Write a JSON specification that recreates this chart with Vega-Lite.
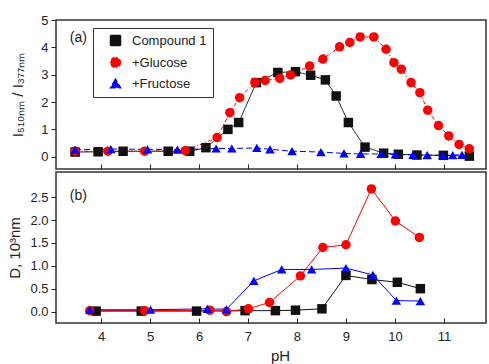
{
  "$schema": "https://vega.github.io/schema/vega-lite/v6.json",
  "background": "white",
  "padding": {"left": 6, "top": 13, "right": 0, "bottom": 0},
  "spacing": 0,
  "config": {
    "font": "Liberation Sans",
    "view": {"stroke": "#333333", "strokeWidth": 1.5},
    "axis": {
      "domain": false,
      "grid": false,
      "labelOverlap": false,
      "tickColor": "#222222",
      "tickWidth": 1,
      "labelFont": "Liberation Sans",
      "labelFontSize": 13,
      "labelColor": "#222222",
      "titleFont": "Liberation Sans",
      "titleFontWeight": "normal",
      "titleColor": "#222222"
    }
  },
  "datasets": {
    "a": [
      {"pH": 3.47, "v": 0.17, "series": "Compound 1"},
      {"pH": 3.94, "v": 0.18, "series": "Compound 1"},
      {"pH": 4.45, "v": 0.2, "series": "Compound 1"},
      {"pH": 5.37, "v": 0.2, "series": "Compound 1"},
      {"pH": 5.81, "v": 0.2, "series": "Compound 1"},
      {"pH": 6.14, "v": 0.33, "series": "Compound 1"},
      {"pH": 6.59, "v": 1.0, "series": "Compound 1"},
      {"pH": 6.81, "v": 1.25, "series": "Compound 1"},
      {"pH": 7.17, "v": 2.71, "series": "Compound 1"},
      {"pH": 7.61, "v": 3.08, "series": "Compound 1"},
      {"pH": 7.97, "v": 3.11, "series": "Compound 1"},
      {"pH": 8.28, "v": 2.98, "series": "Compound 1"},
      {"pH": 8.58, "v": 2.81, "series": "Compound 1"},
      {"pH": 8.8, "v": 2.22, "series": "Compound 1"},
      {"pH": 9.05, "v": 1.25, "series": "Compound 1"},
      {"pH": 9.39, "v": 0.35, "series": "Compound 1"},
      {"pH": 9.77, "v": 0.13, "series": "Compound 1"},
      {"pH": 10.07, "v": 0.09, "series": "Compound 1"},
      {"pH": 10.45, "v": 0.06, "series": "Compound 1"},
      {"pH": 10.99, "v": 0.05, "series": "Compound 1"},
      {"pH": 11.52, "v": 0.02, "series": "Compound 1"},
      {"pH": 3.47, "v": 0.2, "series": "+Glucose"},
      {"pH": 4.14, "v": 0.2, "series": "+Glucose"},
      {"pH": 4.89, "v": 0.2, "series": "+Glucose"},
      {"pH": 5.72, "v": 0.22, "series": "+Glucose"},
      {"pH": 6.37, "v": 0.7, "series": "+Glucose"},
      {"pH": 6.63, "v": 1.61, "series": "+Glucose"},
      {"pH": 6.83, "v": 2.16, "series": "+Glucose"},
      {"pH": 7.14, "v": 2.71, "series": "+Glucose"},
      {"pH": 7.35, "v": 2.79, "series": "+Glucose"},
      {"pH": 7.65, "v": 2.86, "series": "+Glucose"},
      {"pH": 7.87, "v": 2.99, "series": "+Glucose"},
      {"pH": 8.26, "v": 3.32, "series": "+Glucose"},
      {"pH": 8.53, "v": 3.57, "series": "+Glucose"},
      {"pH": 8.87, "v": 4.02, "series": "+Glucose"},
      {"pH": 9.08, "v": 4.18, "series": "+Glucose"},
      {"pH": 9.29, "v": 4.38, "series": "+Glucose"},
      {"pH": 9.57, "v": 4.38, "series": "+Glucose"},
      {"pH": 9.82, "v": 3.93, "series": "+Glucose"},
      {"pH": 9.98, "v": 3.44, "series": "+Glucose"},
      {"pH": 10.13, "v": 3.2, "series": "+Glucose"},
      {"pH": 10.33, "v": 2.71, "series": "+Glucose"},
      {"pH": 10.51, "v": 2.34, "series": "+Glucose"},
      {"pH": 10.67, "v": 1.7, "series": "+Glucose"},
      {"pH": 10.89, "v": 1.14, "series": "+Glucose"},
      {"pH": 11.1, "v": 0.76, "series": "+Glucose"},
      {"pH": 11.31, "v": 0.45, "series": "+Glucose"},
      {"pH": 11.52, "v": 0.29, "series": "+Glucose"},
      {"pH": 3.47, "v": 0.25, "series": "+Fructose"},
      {"pH": 4.2, "v": 0.28, "series": "+Fructose"},
      {"pH": 4.95, "v": 0.27, "series": "+Fructose"},
      {"pH": 5.56, "v": 0.26, "series": "+Fructose"},
      {"pH": 6.35, "v": 0.3, "series": "+Fructose"},
      {"pH": 6.67, "v": 0.3, "series": "+Fructose"},
      {"pH": 7.18, "v": 0.32, "series": "+Fructose"},
      {"pH": 7.45, "v": 0.27, "series": "+Fructose"},
      {"pH": 7.9, "v": 0.2, "series": "+Fructose"},
      {"pH": 8.49, "v": 0.17, "series": "+Fructose"},
      {"pH": 8.96, "v": 0.12, "series": "+Fructose"},
      {"pH": 9.3, "v": 0.1, "series": "+Fructose"},
      {"pH": 9.72, "v": 0.1, "series": "+Fructose"},
      {"pH": 10.01, "v": 0.08, "series": "+Fructose"},
      {"pH": 10.37, "v": 0.07, "series": "+Fructose"},
      {"pH": 10.66, "v": 0.06, "series": "+Fructose"},
      {"pH": 10.98, "v": 0.05, "series": "+Fructose"},
      {"pH": 11.18, "v": 0.06, "series": "+Fructose"},
      {"pH": 11.37, "v": 0.07, "series": "+Fructose"}
    ],
    "b": [
      {"pH": 3.9, "v": 0.01, "series": "Compound 1"},
      {"pH": 4.82, "v": 0.01, "series": "Compound 1"},
      {"pH": 5.95, "v": 0.01, "series": "Compound 1"},
      {"pH": 6.94, "v": 0.02, "series": "Compound 1"},
      {"pH": 7.56, "v": 0.02, "series": "Compound 1"},
      {"pH": 7.97, "v": 0.03, "series": "Compound 1"},
      {"pH": 8.51, "v": 0.06, "series": "Compound 1"},
      {"pH": 9.0, "v": 0.79, "series": "Compound 1"},
      {"pH": 9.53, "v": 0.7, "series": "Compound 1"},
      {"pH": 10.05, "v": 0.64, "series": "Compound 1"},
      {"pH": 10.52, "v": 0.5, "series": "Compound 1"},
      {"pH": 3.77, "v": 0.02, "series": "+Glucose"},
      {"pH": 4.89, "v": 0.02, "series": "+Glucose"},
      {"pH": 6.22, "v": 0.03, "series": "+Glucose"},
      {"pH": 6.56, "v": 0.0, "series": "+Glucose"},
      {"pH": 7.01, "v": 0.06, "series": "+Glucose"},
      {"pH": 7.44, "v": 0.2, "series": "+Glucose"},
      {"pH": 8.07, "v": 0.78, "series": "+Glucose"},
      {"pH": 8.53, "v": 1.4, "series": "+Glucose"},
      {"pH": 9.0, "v": 1.46, "series": "+Glucose"},
      {"pH": 9.52, "v": 2.68, "series": "+Glucose"},
      {"pH": 10.01, "v": 1.98, "series": "+Glucose"},
      {"pH": 10.5, "v": 1.62, "series": "+Glucose"},
      {"pH": 3.77, "v": 0.04, "series": "+Fructose"},
      {"pH": 5.01, "v": 0.04, "series": "+Fructose"},
      {"pH": 6.17, "v": 0.06, "series": "+Fructose"},
      {"pH": 6.56, "v": 0.05, "series": "+Fructose"},
      {"pH": 7.12, "v": 0.67, "series": "+Fructose"},
      {"pH": 7.69, "v": 0.92, "series": "+Fructose"},
      {"pH": 8.3, "v": 0.92, "series": "+Fructose"},
      {"pH": 9.0, "v": 0.95, "series": "+Fructose"},
      {"pH": 9.55, "v": 0.8, "series": "+Fructose"},
      {"pH": 10.03, "v": 0.24, "series": "+Fructose"},
      {"pH": 10.52, "v": 0.23, "series": "+Fructose"}
    ]
  },
  "vconcat": [
    {
      "width": 430,
      "height": 149,
      "data": {"name": "a"},
      "encoding": {
        "x": {"field": "pH", "type": "quantitative",
          "scale": {"domain": [3.08, 11.86], "nice": false, "zero": false},
          "axis": {"values": [4, 5, 6, 7, 8, 9, 10, 11], "labels": false, "title": null, "tickSize": -5}},
        "y": {"field": "v", "type": "quantitative",
          "scale": {"domain": [-0.45, 5], "nice": false, "zero": false},
          "axis": {"values": [0, 1, 2, 3, 4, 5], "labelOverlap": false, "tickSize": 5, "labelPadding": 3,
            "title": "I₅₁₀ₙₘ / I₃₇₇ₙₘ", "titleFontSize": 15, "titleX": -39, "titleBaseline": "middle"}}
      },
      "layer": [
        {
          "mark": {"type": "line", "strokeWidth": 1},
          "encoding": {
            "color": {"field": "series", "type": "nominal",
              "scale": {"domain": ["Compound 1", "+Glucose", "+Fructose"], "range": ["#111111", "#ff0000", "#0000ff"]}},
            "strokeDash": {"field": "series", "type": "nominal",
              "scale": {"domain": ["Compound 1", "+Glucose", "+Fructose"], "range": [[1, 0], [4, 2, 1, 2], [6, 3]]}, "legend": null}
          }
        },
        {
          "mark": {"type": "point", "filled": true, "opacity": 1, "size": 90},
          "encoding": {
            "color": {"field": "series", "type": "nominal",
              "scale": {"domain": ["Compound 1", "+Glucose", "+Fructose"], "range": ["#111111", "#ff0000", "#0000ff"]},
              "legend": {
                "title": null, "orient": "none", "legendX": 37, "legendY": 8,
                "fillColor": "white", "strokeColor": "#333333", "padding": 6,
                "labelFont": "Liberation Sans", "labelFontSize": 13, "labelColor": "#222222",
                "symbolSize": 100, "rowPadding": 5, "labelOffset": 10, "symbolOffset": 10
              }},
            "shape": {"field": "series", "type": "nominal",
              "scale": {"domain": ["Compound 1", "+Glucose", "+Fructose"], "range": ["square", "circle", "triangle-up"]},
              "legend": null}
          }
        },
        {
          "data": {"values": [{"pH": 3.36, "v": 4.35, "t": "(a)"}]},
          "mark": {"type": "text", "align": "left", "baseline": "middle", "fontSize": 14, "color": "#222222"},
          "encoding": {
            "text": {"field": "t"}
          }
        }
      ]
    },
    {
      "width": 430,
      "height": 151,
      "data": {"name": "b"},
      "encoding": {
        "x": {"field": "pH", "type": "quantitative",
          "scale": {"domain": [3.08, 11.86], "nice": false, "zero": false},
          "axis": {"values": [4, 5, 6, 7, 8, 9, 10, 11], "tickSize": -5, "labelPadding": 12,
            "title": "pH", "titleFontSize": 15, "titleX": 224, "titlePadding": 5}},
        "y": {"field": "v", "type": "quantitative",
          "scale": {"domain": [-0.25, 3.05], "nice": false, "zero": false},
          "axis": {"values": [0, 0.5, 1, 1.5, 2, 2.5], "format": ".1f", "labelOverlap": false, "tickSize": 5, "labelPadding": 3,
            "title": "D, 10³nm", "titleFontSize": 15, "titleX": -42, "titleBaseline": "middle"}}
      },
      "layer": [
        {
          "mark": {"type": "line", "strokeWidth": 1},
          "encoding": {
            "color": {"field": "series", "type": "nominal",
              "scale": {"domain": ["Compound 1", "+Glucose", "+Fructose"], "range": ["#111111", "#ff0000", "#0000ff"]}, "legend": null}
          }
        },
        {
          "mark": {"type": "point", "filled": true, "opacity": 1, "size": 90},
          "encoding": {
            "color": {"field": "series", "type": "nominal",
              "scale": {"domain": ["Compound 1", "+Glucose", "+Fructose"], "range": ["#111111", "#ff0000", "#0000ff"]}, "legend": null},
            "shape": {"field": "series", "type": "nominal",
              "scale": {"domain": ["Compound 1", "+Glucose", "+Fructose"], "range": ["square", "circle", "triangle-up"]},
              "legend": null}
          }
        },
        {
          "data": {"values": [{"pH": 3.36, "v": 2.52, "t": "(b)"}]},
          "mark": {"type": "text", "align": "left", "baseline": "middle", "fontSize": 14, "color": "#222222"},
          "encoding": {
            "text": {"field": "t"}
          }
        }
      ]
    }
  ]
}
